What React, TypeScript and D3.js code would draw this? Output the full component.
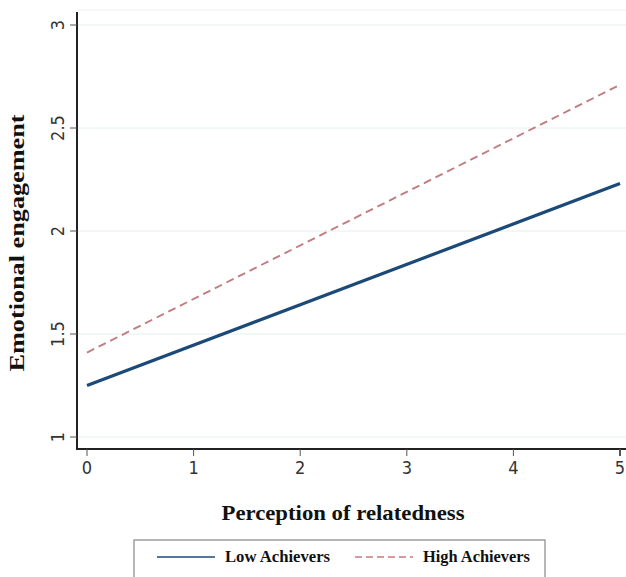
import React, { useEffect, useRef } from 'react';
import * as d3 from 'd3';

// Predicted emotional engagement by perception of relatedness
const xValues = [0, 5];
const lowAchievers = [1.25, 2.23];
const highAchievers = [1.41, 2.71];
const xTicks = [0, 1, 2, 3, 4, 5];
const yTicks = [1, 1.5, 2, 2.5, 3];
const seriesNames = ['Low Achievers', 'High Achievers'];

const App: React.FC = () => {
  const svgRef = useRef<SVGSVGElement>(null);

  useEffect(() => {
    if (!svgRef.current) return;
    const svg = d3.select(svgRef.current);
    svg.selectAll('*').remove();

    const width = 626;
    const height = 577;
    svg.attr('width', width).attr('height', height);

    const xScale = d3.scaleLinear().domain([0, 5]).range([87, 620]);
    const yScale = d3.scaleLinear().domain([1, 3]).range([437, 25]);

    const axisLeftX = 77;
    const axisBottomY = 449;
    const tickFont = "'Liberation Sans Narrow', 'DejaVu Sans Condensed', Arial, sans-serif";
    const serif = "'Liberation Serif', 'Times New Roman', serif";

    // Gridlines
    svg.append('g')
      .selectAll('line')
      .data(yTicks)
      .enter()
      .append('line')
      .attr('x1', axisLeftX)
      .attr('x2', width)
      .attr('y1', d => yScale(d))
      .attr('y2', d => yScale(d))
      .attr('stroke', '#e4eeee')
      .attr('stroke-width', 1);

    // faint top border of plot region
    svg.append('line')
      .attr('x1', axisLeftX)
      .attr('x2', width)
      .attr('y1', 10)
      .attr('y2', 10)
      .attr('stroke', '#eef2f2');

    // Y axis
    svg.append('line')
      .attr('x1', axisLeftX)
      .attr('x2', axisLeftX)
      .attr('y1', 12)
      .attr('y2', axisBottomY)
      .attr('stroke', '#222')
      .attr('stroke-width', 2);

    const yAxis = svg.append('g');
    yTicks.forEach(t => {
      yAxis.append('line')
        .attr('x1', axisLeftX - 7)
        .attr('x2', axisLeftX)
        .attr('y1', yScale(t))
        .attr('y2', yScale(t))
        .attr('stroke', '#555')
        .attr('stroke-width', 1);
      yAxis.append('text')
        .attr('transform', `translate(${axisLeftX - 13}, ${yScale(t)}) rotate(-90)`)
        .attr('text-anchor', 'middle')
        .style('font-family', tickFont)
        .style('font-size', '18px')
        .style('fill', '#333')
        .text(String(t));
    });

    // X axis
    svg.append('line')
      .attr('x1', axisLeftX - 1)
      .attr('x2', width)
      .attr('y1', axisBottomY)
      .attr('y2', axisBottomY)
      .attr('stroke', '#222')
      .attr('stroke-width', 2);

    const xAxis = svg.append('g');
    xTicks.forEach(t => {
      xAxis.append('line')
        .attr('x1', xScale(t))
        .attr('x2', xScale(t))
        .attr('y1', axisBottomY)
        .attr('y2', axisBottomY + 7)
        .attr('stroke', '#555')
        .attr('stroke-width', t === 5 ? 2 : 1);
      xAxis.append('text')
        .attr('x', xScale(t))
        .attr('y', axisBottomY + 25)
        .attr('text-anchor', 'middle')
        .style('font-family', tickFont)
        .style('font-size', '18px')
        .style('fill', '#333')
        .text(String(t));
    });

    // Axis titles
    svg.append('text')
      .attr('transform', `translate(24, 243) rotate(-90)`)
      .attr('text-anchor', 'middle')
      .attr('textLength', 257)
      .attr('lengthAdjust', 'spacingAndGlyphs')
      .style('font-family', serif)
      .style('font-weight', 'bold')
      .style('font-size', '22px')
      .style('fill', '#111')
      .text('Emotional engagement');

    svg.append('text')
      .attr('x', 343)
      .attr('y', 520)
      .attr('text-anchor', 'middle')
      .attr('textLength', 243)
      .attr('lengthAdjust', 'spacingAndGlyphs')
      .style('font-family', serif)
      .style('font-weight', 'bold')
      .style('font-size', '22px')
      .style('fill', '#111')
      .text('Perception of relatedness');

    // Lines
    const line = d3.line<number>()
      .x((_, i) => xScale(xValues[i]))
      .y(d => yScale(d));

    svg.append('path')
      .datum(highAchievers)
      .attr('d', line)
      .attr('fill', 'none')
      .attr('stroke', '#c27b80')
      .attr('stroke-width', 1.9)
      .attr('stroke-dasharray', '8,5');

    svg.append('path')
      .datum(lowAchievers)
      .attr('d', line)
      .attr('fill', 'none')
      .attr('stroke', '#1b4a78')
      .attr('stroke-width', 3.2);

    // Legend
    const legend = svg.append('g');
    legend.append('rect')
      .attr('x', 134)
      .attr('y', 540)
      .attr('width', 411)
      .attr('height', 45)
      .attr('fill', 'white')
      .attr('stroke', '#888')
      .attr('stroke-width', 1.2);

    const legendItems = [
      { name: seriesNames[0], color: '#1b4a78', dash: null as string | null, x: 157, width: 1.5, len: 105 },
      { name: seriesNames[1], color: '#c27b80', dash: '7,4', x: 355, width: 1.4, len: 107 },
    ];
    legendItems.forEach(item => {
      legend.append('line')
        .attr('x1', item.x)
        .attr('x2', item.x + 58)
        .attr('y1', 557)
        .attr('y2', 557)
        .attr('stroke', item.color)
        .attr('stroke-width', item.width)
        .attr('stroke-dasharray', item.dash);
      legend.append('text')
        .attr('x', item.x + 68)
        .attr('y', 562)
        .attr('textLength', item.len)
        .attr('lengthAdjust', 'spacingAndGlyphs')
        .style('font-family', serif)
        .style('font-weight', 'bold')
        .style('font-size', '16px')
        .style('fill', '#111')
        .text(item.name);
    });
  }, []);

  return (
    <div style={{ position: 'fixed', left: 0, top: 0, width: 626, height: 577, overflow: 'hidden', background: 'white' }}>
      <svg ref={svgRef} style={{ display: 'block' }}></svg>
    </div>
  );
};

export default App;
